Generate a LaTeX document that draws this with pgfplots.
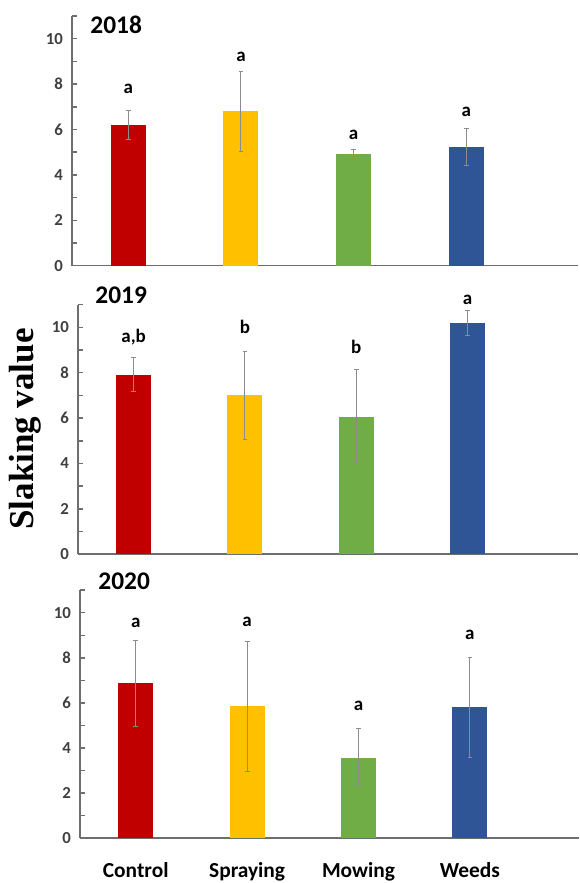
\documentclass[border=0pt]{standalone}
\usepackage{fontspec}
\setmainfont{Carlito}
\newfontfamily\labelserif{Liberation Serif}
\usepackage{pgfplots}
\pgfplotsset{compat=1.18}

\definecolor{cRed}{HTML}{C00000}
\definecolor{cGold}{HTML}{FFC000}
\definecolor{cGreen}{HTML}{70AD47}
\definecolor{cBlue}{HTML}{2F5597}
\definecolor{axisgray}{HTML}{6E6E6E}
\definecolor{tickgray}{HTML}{404040}
\definecolor{errgray}{HTML}{8C8C8C}

\pgfplotsset{
  panel/.style={
    anchor=south west,
    axis x line*=bottom, axis y line*=left,
    axis line style={draw=axisgray, line width=0.8pt},
    xmin=-0.5, ymin=0, ymax=11,
    ytick={0,2,...,10}, minor ytick={1,3,...,11},
    tick align=inside, major tick length=2.5pt, minor tick length=2.5pt,
    every tick/.style={axisgray, line width=0.75pt},
    every minor tick/.style={axisgray, line width=0.75pt},
    yticklabel style={font=\bfseries\fontsize{8.4}{10}\selectfont, text=tickgray, xshift=-1pt},
    /pgf/number format/assume math mode=true,
    xtick=\empty,
    clip=false,
  },
  mybar/.style={ybar, bar width=17.5pt, bar shift=0pt, fill=#1, draw=none,
    error bars/.cd, y dir=both, y explicit,
    error bar style={errgray, line width=0.5pt},
    error mark options={rotate=90, mark size=1.2pt, errgray, line width=0.5pt}},
}
\tikzset{
  letter/.style={font=\bfseries\fontsize{9.5}{11}\selectfont},
  year/.style={font=\bfseries\fontsize{12.7}{14}\selectfont, anchor=west, inner sep=0pt},
}

\begin{document}
\begin{tikzpicture}
\path[use as bounding box] (0,0) rectangle (289.5pt,441.5pt);

% ---- 2018 ----
\begin{axis}[panel, at={(36pt,308.65pt)}, x=56.33pt, y=11.35pt, xmax=3.99]
\addplot[mybar=cRed]   coordinates {(0,6.20) +- (0,0.62)};
\addplot[mybar=cGold]  coordinates {(1,6.80) +- (0,1.75)};
\addplot[mybar=cGreen] coordinates {(2,4.90) +- (0,0.22)};
\addplot[mybar=cBlue]  coordinates {(3,5.22) +- (0,0.82)};
\node[letter] at (axis cs:0,7.81) {a};
\node[letter] at (axis cs:1,9.20) {a};
\node[letter] at (axis cs:2,5.76) {a};
\node[letter] at (axis cs:3,6.78) {a};
\end{axis}

% ---- 2019 ----
\begin{axis}[panel, at={(39pt,164.35pt)}, x=55.65pt, y=11.35pt, xmax=3.99]
\addplot[mybar=cRed]   coordinates {(0,7.90) +- (0,0.75)};
\addplot[mybar=cGold]  coordinates {(1,7.00) +- (0,1.95)};
\addplot[mybar=cGreen] coordinates {(2,6.07) +- (0,2.05)};
\addplot[mybar=cBlue]  coordinates {(3,10.20) +- (0,0.55)};
\node[letter] at (axis cs:0,9.57) {a,b};
\node[letter] at (axis cs:1,10.00) {b};
\node[letter] at (axis cs:2,9.13) {b};
\node[letter] at (axis cs:3,11.20) {a};
\end{axis}

% ---- 2020 ----
\begin{axis}[panel, at={(40pt,22.35pt)}, x=55.7pt, y=11.28pt, xmax=3.98,
  xtick={0,1,2,3}, xticklabels={Control,Spraying,Mowing,Weeds},
  xtick style={draw=none},
  xticklabel style={font=\bfseries\fontsize{10.7}{12}\selectfont, anchor=base, yshift=-19.5pt}]
\addplot[mybar=cRed]   coordinates {(0,6.87) +- (0,1.90)};
\addplot[mybar=cGold]  coordinates {(1,5.86) +- (0,2.88)};
\addplot[mybar=cGreen] coordinates {(2,3.58) +- (0,1.30)};
\addplot[mybar=cBlue]  coordinates {(3,5.80) +- (0,2.22)};
\node[letter] at (axis cs:0,9.54) {a};
\node[letter] at (axis cs:1,9.60) {a};
\node[letter] at (axis cs:2,5.86) {a};
\node[letter] at (axis cs:3,9.01) {a};
\end{axis}

% panel years and shared axis title
\node[year] at (45pt,429pt) {2018};
\node[year] at (47.5pt,294pt) {2019};
\node[year] at (49pt,151pt) {2020};
\node[rotate=90, font=\labelserif\bfseries\fontsize{17.5}{20}\selectfont] at (12.5pt,227pt) {Slaking value};
\end{tikzpicture}
\end{document}
